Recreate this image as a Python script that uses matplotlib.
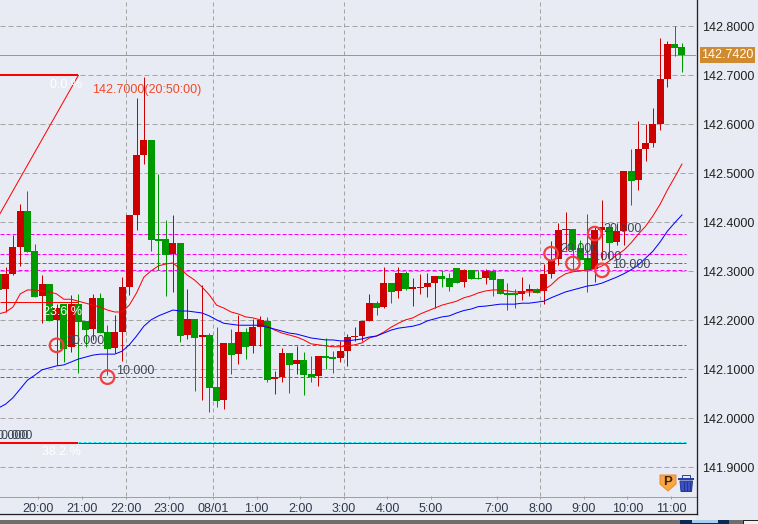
import matplotlib
matplotlib.use("Agg")
import matplotlib.pyplot as plt
from matplotlib.patches import Rectangle, Polygon
from matplotlib.lines import Line2D
from matplotlib.transforms import Affine2D

plt.rcParams['font.family'] = ['Liberation Sans', 'DejaVu Sans']
plt.rcParams['lines.scale_dashes'] = False

first_index = -6
opens = [142.295,142.264,142.295,142.350,142.423,142.341,142.250,142.274,142.201,142.233,142.146,142.233,142.199,142.182,142.246,142.176,142.144,142.176,142.268,142.415,142.537,142.568,142.366,142.366,142.335,142.358,142.170,142.203,142.166,142.170,142.064,142.037,142.154,142.131,142.176,142.148,142.186,142.199,142.080,142.084,142.133,142.111,142.119,142.090,142.086,142.127,142.125,142.123,142.137,142.166,142.168,142.199,142.235,142.227,142.276,142.260,142.297,142.264,142.266,142.268,142.276,142.290,142.286,142.307,142.278,142.303,142.286,142.286,142.301,142.284,142.256,142.254,142.254,142.260,142.264,142.260,142.295,142.325,142.384,142.386,142.348,142.327,142.305,142.384,142.390,142.360,142.382,142.505,142.486,142.550,142.562,142.601,142.692,142.764,142.758]
highs = [142.295,142.309,142.374,142.437,142.464,142.356,142.292,142.274,142.233,142.233,142.252,142.254,142.199,142.254,142.256,142.190,142.211,142.288,142.415,142.654,142.697,142.568,142.499,142.405,142.415,142.358,142.264,142.203,142.272,142.174,142.186,142.154,142.182,142.211,142.184,142.203,142.209,142.207,142.097,142.144,142.133,142.148,142.135,142.127,142.127,142.164,142.137,142.158,142.172,142.186,142.199,142.254,142.239,142.309,142.276,142.309,142.301,142.286,142.295,142.297,142.290,142.303,142.297,142.307,142.305,142.303,142.303,142.305,142.305,142.284,142.276,142.264,142.288,142.274,142.266,142.315,142.362,142.399,142.421,142.386,142.364,142.417,142.392,142.445,142.390,142.399,142.505,142.550,142.607,142.601,142.633,142.776,142.770,142.801,142.766]
lows = [142.262,142.217,142.292,142.311,142.340,142.248,142.194,142.199,142.109,142.115,142.135,142.092,142.146,142.160,142.174,142.088,142.133,142.117,142.252,142.384,142.519,142.341,142.303,142.250,142.258,142.156,142.162,142.056,142.037,142.013,142.023,142.019,142.090,142.111,142.121,142.133,142.148,142.074,142.050,142.074,142.052,142.090,142.048,142.074,142.066,142.101,142.092,142.115,142.107,142.158,142.158,142.199,142.211,142.225,142.235,142.246,142.262,142.229,142.254,142.248,142.225,142.268,142.260,142.276,142.268,142.284,142.284,142.274,142.250,142.254,142.221,142.225,142.241,142.250,142.256,142.233,142.286,142.313,142.343,142.303,142.323,142.258,142.278,142.323,142.325,142.354,142.354,142.435,142.466,142.525,142.554,142.588,142.676,142.739,142.707]
closes = [142.262,142.295,142.350,142.423,142.340,142.248,142.274,142.199,142.225,142.141,142.233,142.197,142.180,142.246,142.174,142.141,142.176,142.268,142.415,142.537,142.568,142.364,142.362,142.333,142.358,142.168,142.203,142.164,142.170,142.062,142.035,142.154,142.129,142.176,142.146,142.186,142.201,142.078,142.084,142.133,142.109,142.119,142.088,142.084,142.127,142.123,142.121,142.137,142.166,142.168,142.199,142.235,142.225,142.276,142.258,142.297,142.264,142.266,142.268,142.276,142.290,142.284,142.268,142.276,142.303,142.284,142.284,142.301,142.282,142.254,142.252,142.252,142.260,142.264,142.256,142.295,142.323,142.384,142.386,142.343,142.323,142.303,142.384,142.390,142.358,142.382,142.505,142.484,142.550,142.562,142.601,142.692,142.764,142.756,142.742]
ma_fast = [142.213,142.217,142.227,142.254,142.262,142.262,142.260,142.258,142.254,142.243,142.243,142.239,142.235,142.231,142.227,142.221,142.217,142.217,142.231,142.256,142.288,142.301,142.311,142.315,142.317,142.305,142.292,142.282,142.268,142.252,142.231,142.225,142.217,142.213,142.207,142.205,142.201,142.188,142.180,142.174,142.170,142.166,142.160,142.152,142.150,142.148,142.146,142.146,142.148,142.150,142.154,142.164,142.168,142.176,142.186,142.194,142.201,142.205,142.213,142.219,142.225,142.231,142.235,142.239,142.246,142.250,142.256,142.260,142.262,142.262,142.260,142.258,142.258,142.258,142.258,142.262,142.272,142.286,142.295,142.299,142.301,142.303,142.305,142.311,142.321,142.333,142.343,142.358,142.376,142.392,142.413,142.437,142.466,142.492,142.519]
ma_slow = [142.021,142.029,142.042,142.060,142.078,142.088,142.099,142.103,142.107,142.109,142.115,142.121,142.125,142.129,142.131,142.131,142.131,142.137,142.150,142.168,142.188,142.201,142.209,142.215,142.221,142.219,142.219,142.217,142.215,142.209,142.201,142.194,142.192,142.190,142.190,142.190,142.190,142.186,142.182,142.178,142.174,142.172,142.168,142.164,142.162,142.160,142.160,142.158,142.158,142.160,142.162,142.166,142.168,142.174,142.180,142.184,142.186,142.188,142.192,142.199,142.203,142.207,142.209,142.215,142.220,142.223,142.228,142.229,142.231,142.233,142.233,142.233,142.235,142.235,142.237,142.239,142.246,142.252,142.258,142.262,142.266,142.270,142.272,142.276,142.282,142.288,142.295,142.303,142.313,142.327,142.341,142.360,142.382,142.399,142.415]

price_ticks = [141.9,142.0,142.1,142.2,142.3,142.4,142.5,142.6,142.7,142.8]
time_idx = [0,6,12,18,24,30,36,42,48,54,63,69,75,81,87]
time_labels = ['20:00','21:00','22:00','23:00','08/01','1:00','2:00','3:00','4:00','5:00','7:00','8:00','9:00','10:00','11:00']
vgrid_idx = [12,24,42,69]
order_levels = [142.377,142.336,142.316,142.302,142.149,142.084]
order_idx = [76,70,73,77,2,9]
order_labels = ['20.000','20.000','10.000','10.000','30.000','10.000']
last_price = 142.742
fib_high = 142.700
fib_236 = 142.237
fib_382 = 141.950
fib_anchor = 5
fib_line_idx = [-6,5]
fib_line_price = [142.412,142.700]

BG = '#e8ebf4'
fig = plt.figure(figsize=(7.58,5.24),dpi=100,facecolor=BG)
px = Affine2D().scale(1/758,-1/524).translate(0,1)+fig.transFigure
ax = fig.add_axes([0,1-496/524,696/758,496/524],facecolor=BG)
XL, XR = -5.78, 89.93
ax.set_xlim(XL,XR)
ax.set_ylim(141.8415,142.8537)
for s in ax.spines.values():
    s.set_visible(False)

P = 0.72  # one pixel in points
xs = [first_index+i for i in range(len(opens))]
TICK_SHIFT = -0.5

ax.hlines(price_ticks,XL,89.8,colors='#a4a4a4',lw=P,linestyles=[(0,(5*P,3*P))],zorder=1,snap=True)
ax.vlines([i+TICK_SHIFT for i in vgrid_idx],141.8415,142.8537,colors='#a4a4a4',lw=P,linestyles=[(0,(4*P,3*P))],zorder=1,snap=True)
ax.hlines(order_levels,XL,88.6,colors='#ff00ff',lw=P,linestyles=[(0,(4*P,2*P))],zorder=2,snap=True)
ax.axhline(last_price,color='#c8903f',lw=P,zorder=2)

for x,o,h,l,c in zip(xs,opens,highs,lows,closes):
    col = '#cc0000' if c>=o else '#009900'
    ax.vlines(x,l,h,colors=col,lw=P,zorder=3,snap=True)
    ax.bar(x,max(abs(c-o),0.003),bottom=min(o,c),width=0.96,color=col,lw=0,zorder=4,antialiased=False)

ax.plot(xs,ma_fast,color='#ff0000',lw=0.72,zorder=5)
ax.plot(xs,ma_slow,color='#0000ff',lw=0.72,zorder=5)

# Fibonacci drawing
ax.plot(fib_line_idx,fib_line_price,color='#ff0000',lw=0.72,zorder=6)
ax.hlines(fib_high,XL,fib_anchor,colors='#ff0000',lw=1.45,zorder=6,snap=True)
ax.hlines(fib_236,XL,fib_anchor,colors='#ff0000',lw=P,zorder=6,snap=True)
ax.hlines(fib_382,XL,fib_anchor,colors='#ff0000',lw=1.45,zorder=6,snap=True)
ax.hlines(fib_382-0.0012,fib_anchor,88.6,colors='#ff0000',lw=P,zorder=6,snap=True)
ax.hlines(fib_382+0.001,fib_anchor,88.6,colors='#00e8f0',lw=P,linestyles=[(0,(3*P,2*P))],zorder=6,snap=True)
for pos,t in [((82,85),'0.0 %'),((82,312),'23.6 %'),((81,452),'38.2 %')]:
    ax.text(pos[0],pos[1],t,transform=px,color='white',fontsize=9,ha='right',va='center',zorder=7)

ax.text(92,90,'142.7000(20:50:00)',transform=px,color='#f04a28',fontsize=9,ha='left',va='center',zorder=7)

ax.scatter(order_idx,order_levels,s=95,facecolors='none',edgecolors='#f04040',linewidths=1.6,zorder=8)
label_pos = [(603,228.5),(560,249),(583,257.5),(612.5,265),(66.5,340.5),(116.5,371.5)]
for (lx,ly),t in zip(label_pos,order_labels):
    ax.text(lx,ly,t,transform=px,color='#404858',fontsize=9,ha='left',va='center',zorder=9)
for lx,t in [(29,'20.000'),(32,'10.000')]:
    ax.text(lx,436,t,transform=px,color='#404858',fontsize=9,ha='right',va='center',zorder=9)

# axes ticks
ax.set_yticks(price_ticks)
ax.set_yticklabels([f'{v:.4f}' for v in price_ticks])
ax.yaxis.tick_right()
ax.tick_params(axis='y',length=0,pad=4.4,labelsize=9,labelcolor='#202020')
ax.set_xticks([i+TICK_SHIFT for i in time_idx])
ax.set_xticklabels(time_labels)
ax.tick_params(axis='x',length=2.2,width=P,color='#a0a0a0',pad=2.6,labelsize=9,labelcolor='#303848')

# frame pieces
fig.add_artist(Rectangle((0,513),696,7,transform=px,facecolor='#f0f0f0',edgecolor='none'))
fig.add_artist(Rectangle((0,520),758,4,transform=px,facecolor='#6e6e6e',edgecolor='none'))
fig.add_artist(Rectangle((680,520),49,4,transform=px,facecolor='#0a2a55',edgecolor='none'))
fig.add_artist(Rectangle((692,520),26,3,transform=px,facecolor='#a8cff0',edgecolor='none'))
fig.add_artist(Rectangle((743,520),15,4,transform=px,facecolor='#f0f0f0',edgecolor='#202020',lw=0.7))
fig.add_artist(Line2D([0,696],[496.5,496.5],transform=px,color='#a0a0a0',lw=P))
fig.add_artist(Line2D([0,696.5],[513.5,513.5],transform=px,color='#202028',lw=P*1.3))
fig.add_artist(Line2D([696.5,696.5],[0,513.5],transform=px,color='#202028',lw=P*1.3))

# last-price tag
fig.add_artist(Rectangle((700,47),55,16,transform=px,facecolor='#d08a30',edgecolor='none'))
fig.text(727.5,55.5,'142.7420',transform=px,color='white',fontsize=9,ha='center',va='center')

# icons
fig.add_artist(Polygon([(660,475),(676,475),(676,484),(668,491),(660,484)],closed=True,transform=px,facecolor='#f6a848',edgecolor='#f08828',lw=0.7))
fig.text(668,482,'P',transform=px,color='#4a2400',fontsize=9.5,fontweight='bold',ha='center',va='center')
fig.add_artist(Rectangle((678,477.5),16,2.5,transform=px,facecolor='#2b3fa8',edgecolor='none'))
fig.add_artist(Rectangle((682,475),8,2.5,transform=px,facecolor='none',edgecolor='#2b3fa8',lw=0.7))
fig.add_artist(Polygon([(680,481),(692.5,481),(691.5,491.5),(681,491.5)],closed=True,transform=px,facecolor='#3a50c8',edgecolor='#24368f',lw=0.7))
for sx in (683.5,686.5,689.5):
    fig.add_artist(Line2D([sx,sx],[482,490],transform=px,color='#24368f',lw=0.72))

fig.savefig('out.png',dpi=100,facecolor=BG)
